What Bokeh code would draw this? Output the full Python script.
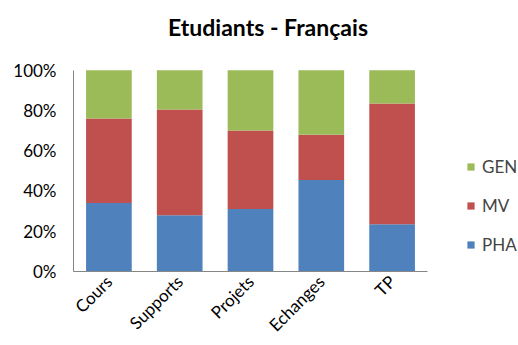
import math
from bokeh.plotting import figure
from bokeh.models import (Range1d, NumeralTickFormatter, Legend, LegendItem,
                          FixedTicker, Label, ColumnDataSource)
from bokeh.embed import file_html
from bokeh.resources import INLINE

categories = ["Cours", "Supports", "Projets", "Echanges", "TP"]
pha = [0.34, 0.28, 0.31, 0.455, 0.235]
mv = [0.42, 0.525, 0.39, 0.225, 0.60]
gen = [0.24, 0.195, 0.30, 0.32, 0.165]
series = ["PHA", "MV", "GEN"]
colors = ["#4F81BD", "#C0504D", "#9BBB59"]
y_ticks = [0, 0.2, 0.4, 0.6, 0.8, 1.0]
title_text = "Etudiants - Français"

FONT = "Lato"

# category slots: 1..N, each one unit wide
xs = [i + 1 for i in range(len(categories))]
n = len(categories)

# frame spans from the y axis to the right edge (legend area included),
# and from the x axis to the top edge (title area included)
FRAME_W, FRAME_H = 445, 272
SLOT_PX = 354 / n          # width of one category slot
UNIT_PX = 202              # height of 100 %

p = figure(width=518, height=345,
           x_range=Range1d(0.5, 0.5 + FRAME_W / SLOT_PX),
           y_range=Range1d(0, FRAME_H / UNIT_PX),
           output_backend="svg", toolbar_location=None,
           min_border_left=73, min_border_right=0, min_border_top=0, min_border_bottom=73)

src = ColumnDataSource(dict(x=xs, cat=categories, PHA=pha, MV=mv, GEN=gen))
renderers = p.vbar_stack(series, x="x", width=0.645, color=colors, line_color=None, source=src)

p.xgrid.visible = False
p.ygrid.visible = False
p.outline_line_color = None

p.yaxis.ticker = FixedTicker(ticks=y_ticks)
p.yaxis.formatter = NumeralTickFormatter(format="0%")
p.yaxis.bounds = (0, 1)
p.xaxis.ticker = FixedTicker(ticks=xs)
p.xaxis.major_label_overrides = {x: c for x, c in zip(xs, categories)}
p.xaxis.bounds = (0.5, n + 0.5)
for ax in (p.xaxis, p.yaxis):
    ax.major_tick_line_color = None
    ax.minor_tick_line_color = None
    ax.major_tick_out = 0
    ax.major_tick_in = 0
    ax.axis_line_color = "#868686"
    ax.major_label_text_font = FONT
    ax.major_label_text_font_size = "17px"
    ax.major_label_text_color = "#000000"
p.yaxis.major_label_standoff = 17
p.xaxis.major_label_standoff = 7
p.xaxis.major_label_orientation = math.pi / 4

items = [LegendItem(label=s, renderers=[r]) for s, r in zip(series, renderers)][::-1]
legend = Legend(items=items, location=(393, 16), orientation="vertical",
                glyph_width=9, glyph_height=9, label_height=20, spacing=18,
                label_standoff=7, padding=0, margin=0, border_line_alpha=0,
                background_fill_alpha=0, label_text_font=FONT,
                label_text_font_size="17px", label_text_baseline="middle")
p.add_layout(legend, "center")

title = Label(x=194.5, y=245, x_units="screen", y_units="screen", text=title_text,
              text_font=FONT, text_font_style="bold", text_font_size="23px",
              text_align="center", text_baseline="middle", text_color="#000000")
p.add_layout(title)

open("out.html", "w").write(file_html(p, INLINE))
